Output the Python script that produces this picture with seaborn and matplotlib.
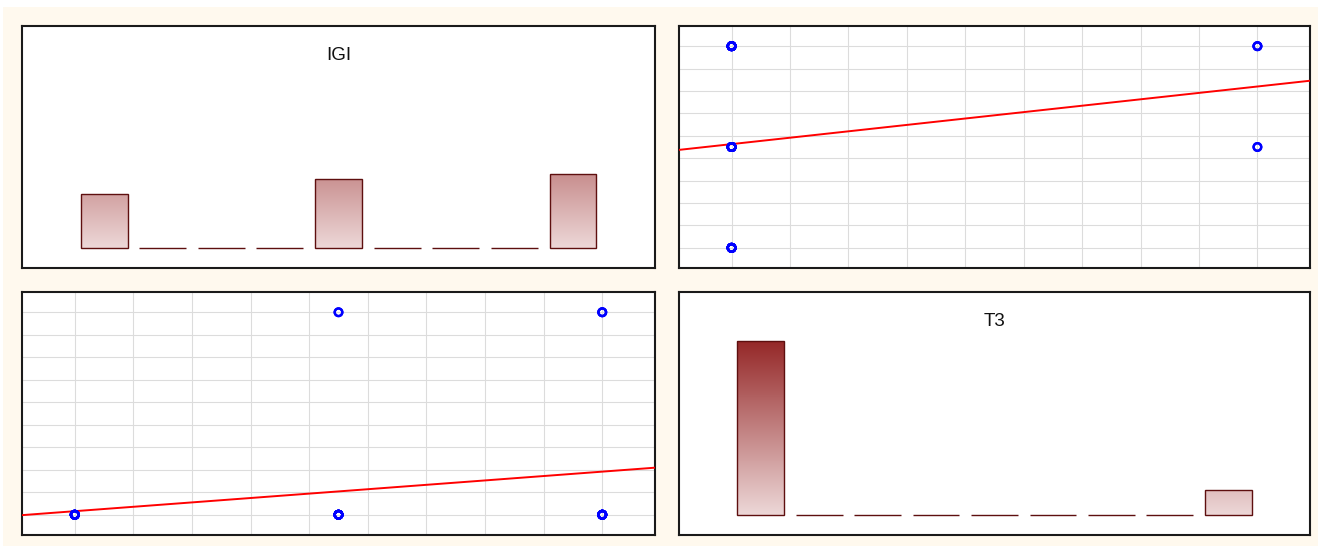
import numpy as np
import pandas as pd
import matplotlib
matplotlib.use("Agg")
import matplotlib.pyplot as plt
import seaborn as sns
from matplotlib.colors import LinearSegmentedColormap, Normalize
from matplotlib.patches import Rectangle

# ---- data (grid units) ----
igi_levels = [0.0, 4.5, 9.0]
t3_levels = [0.0, 9.0]
# counts of observations: rows = T3 level, columns = IGI level
counts_t3_low = [11, 12, 12]
counts_t3_high = [0, 2, 3]
titles = ["IGI", "T3"]

rows = []
for t3, cnts in zip(t3_levels, [counts_t3_low, counts_t3_high]):
    for igi, n in zip(igi_levels, cnts):
        rows += [(igi, t3)] * n
df = pd.DataFrame(rows, columns=["IGI", "T3"])
N = len(df)

sns.set_theme(style="white")
plt.rcParams["font.family"] = ["Liberation Sans", "DejaVu Sans"]

W, H = 1321, 546
fig = plt.figure(figsize=(W / 100, H / 100), dpi=100)
fig.patch.set_facecolor("white")
fig.patches.append(Rectangle((3 / W, 0), (W - 6) / W, (H - 7) / H,
                             transform=fig.transFigure, facecolor="#FFF9EE",
                             edgecolor="none", zorder=-10))

def axes_px(x0, y0, x1, y1):
    return fig.add_axes([x0 / W, (H - y1) / H, (x1 - x0) / W, (y1 - y0) / H])

ax_tl = axes_px(22, 26, 655, 268)
ax_tr = axes_px(679, 26, 1310, 268)
ax_bl = axes_px(22, 292, 655, 535)
ax_br = axes_px(679, 292, 1310, 535)

lo, hi = -0.9, 9.9
cmap = LinearSegmentedColormap.from_list("bar", ["#EDD8D8", "#952828"])
vmax = max(df["IGI"].value_counts().max(), df["T3"].value_counts().max())

def style_frame(ax):
    ax.set_facecolor("white")
    for s in ax.spines.values():
        s.set_visible(True)
        s.set_color("#1a1a1a")
        s.set_linewidth(1.5)
    ax.tick_params(length=0, labelbottom=False, labelleft=False)
    ax.set_xlabel("")
    ax.set_ylabel("")

def hist_panel(ax, col, title):
    sns.histplot(x=df[col], bins=9, binrange=(0, 9), shrink=0.8, ax=ax,
                 color="#C08080", edgecolor="#5E0F0F", linewidth=1.0, alpha=1)
    for p in list(ax.patches):
        x0, y0 = p.get_x(), p.get_y()
        w, h = p.get_width(), p.get_height()
        p.set_facecolor("none")
        p.set_zorder(3)
        if h > 0:
            grad = np.linspace(0, h, 256).reshape(-1, 1)
            im = ax.imshow(grad, cmap=cmap, norm=Normalize(0, vmax),
                           extent=[x0, x0 + w, 0, h], origin="lower",
                           aspect="auto", zorder=2, interpolation="bilinear")
            im.set_clip_path(p)
    ax.set_xlim(lo, hi)
    ax.set_ylim(-4.05, 44.85)
    ax.set_xticks([])
    ax.set_yticks([])
    ax.grid(False)
    ax.text(0.5, 1 - 34 / 242, title, transform=ax.transAxes, ha="center",
            va="baseline", fontsize=13.5, color="#111111")
    style_frame(ax)

def scatter_panel(ax, xcol, ycol):
    ax.set_xlim(lo, hi)
    ax.set_ylim(lo, hi)
    sns.regplot(data=df, x=xcol, y=ycol, ax=ax, ci=None, truncate=False,
                marker="o",
                scatter_kws=dict(facecolors="none", edgecolors="#0000FF",
                                 s=30, linewidths=1.7, alpha=1, zorder=4),
                line_kws=dict(color="#FF0000", lw=1.4, zorder=3))
    ax.set_xlim(lo, hi)
    ax.set_ylim(lo, hi)
    ax.set_xticks(range(10))
    ax.set_yticks(range(10))
    ax.set_axisbelow(True)
    ax.grid(True, color="#DCDCDC", lw=0.8)
    style_frame(ax)

hist_panel(ax_tl, "IGI", titles[0])
scatter_panel(ax_tr, "T3", "IGI")
scatter_panel(ax_bl, "IGI", "T3")
hist_panel(ax_br, "T3", titles[1])

fig.savefig("out.png", dpi=100, facecolor=fig.get_facecolor())
